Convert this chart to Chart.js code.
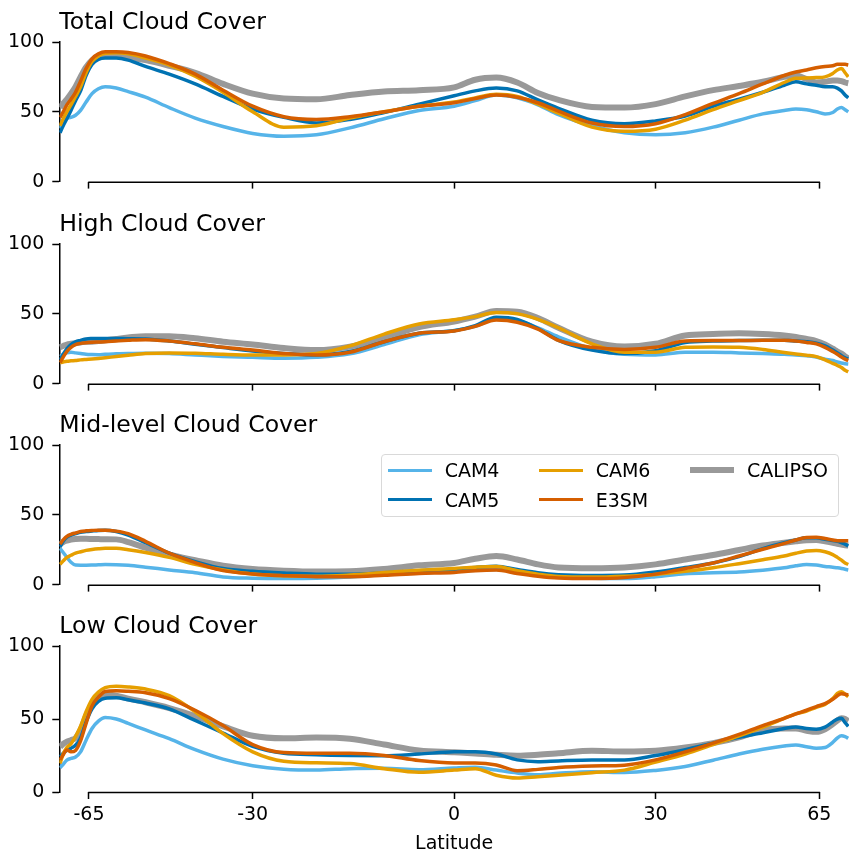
<!DOCTYPE html>
<html>
<head>
<meta charset="utf-8">
<title>Zonal mean cloud cover</title>
<script src="https://cdn.jsdelivr.net/npm/chart.js@4.4.0/dist/chart.umd.min.js"></script>
<style>
  html, body { margin: 0; padding: 0; background: #fff; }
  body { width: 849px; height: 851px; position: relative; overflow: hidden; font-family: "DejaVu Sans", sans-serif; }
  .panel { position: absolute; left: 0; width: 849px; }
  .panel canvas { display: block; }
  #legend { position: absolute; left: 381px; top: 454px; width: 458px; height: 63px; box-sizing: border-box;
            border: 1px solid #d9d9d9; border-radius: 4px; background: rgba(255,255,255,0.8); }
  .item { position: absolute; height: 24px; display: flex; align-items: center; }
  .swatch { width: 44px; margin-right: 13px; }
  .label { font-size: 19px; color: #000; white-space: nowrap; }
</style>
</head>
<body>
<div id="legend"></div>
<script>
// latitudes of the sampled points (degrees)
const LAT = [-78, -76, -74, -72, -70, -68, -66, -64, -62, -60, -57, -54, -50, -45, -40, -35, -30, -25, -20, -15, -10, -5,
             0, 3, 6, 9, 12, 15, 20, 25, 30, 35, 40, 45, 50, 55, 58, 61, 64, 67, 70, 72, 74, 76, 78];
const TICK_LATS = [-65, -30, 0, 30, 65];
const PANEL_TITLES = ['Total Cloud Cover', 'High Cloud Cover', 'Mid-level Cloud Cover', 'Low Cloud Cover'];
const SERIES_NAMES = ['CAM4', 'CAM5', 'CAM6', 'E3SM', 'CALIPSO'];

// Total cloud cover (%)
const TOTAL_CAM4 = [38, 44, 45.5, 46, 47.5, 51, 57, 63, 66.5, 68, 67, 64.5, 60.5, 53, 45.5, 39.5, 34.5, 32.5, 33.5, 38.5, 45, 51,
                    54, 58, 62, 60, 55, 48, 40, 35, 33.5, 35, 39, 44, 48.5, 51, 52, 51.5, 50, 48.5, 49.5, 52, 53, 51.5, 50];
const TOTAL_CAM5 = [35, 40, 45, 51, 58, 65, 76, 84, 87.5, 88.5, 88.5, 87, 82.5, 77, 70, 61, 52, 46, 42, 44.5, 49.5, 55.5,
                    61.5, 65, 67, 65, 58.5, 52.5, 44, 41.5, 43.5, 47, 54, 59, 64, 69, 71.5, 70, 69, 68, 68, 67, 65, 62, 60];
const TOTAL_CAM6 = [40, 45, 50, 55, 61, 68, 78, 86, 90, 92, 92.4, 91.5, 88.5, 83.5, 75.5, 64, 50, 39, 40, 45.5, 50, 54,
                    57, 60, 62.5, 61, 55.5, 49, 39, 36, 37.5, 44, 51.5, 58, 64, 71, 74, 74.3, 74.5, 75, 77.5, 80, 81, 78, 75];
const TOTAL_E3SM = [46, 50, 55, 59, 64, 72, 81, 88, 91.5, 93, 93, 92.5, 90, 84.5, 77, 65.5, 54, 46.5, 44.5, 46.5, 50, 54,
                    56.5, 59.5, 62, 60.5, 56.5, 50.5, 42, 39.5, 41.5, 48, 56, 63, 70, 76, 78.5, 80, 81.5, 82.5, 83, 84, 84, 84, 83.5];
const TOTAL_CALIPSO = [53, 56, 59, 63, 68, 75, 82, 87, 90, 91, 91, 89, 87, 83, 78, 70, 63, 59.5, 59, 62, 64.5, 65.5,
                       67.5, 73, 74.5, 71, 63.5, 58.5, 53.5, 53, 55.5, 61, 65.5, 68.5, 71.5, 75, 76, 73.5, 71, 71.5, 72.5, 72.5, 72, 71, 70.5];

// High cloud cover (%)
const HIGH_CAM4 = [19.5, 21, 22, 22.5, 22, 21.5, 21, 20.8, 20.7, 21, 21.3, 21.6, 21.8, 21.5, 20.5, 19.5, 18.8, 18.2, 18.8, 21.3, 28, 35,
                   38, 41, 46.5, 45, 40, 33.5, 25, 21, 20.5, 22.5, 22.5, 22, 21.5, 21, 20.5, 20, 19, 17.5, 16.5, 15.5, 14.8, 14.2, 14];
const HIGH_CAM5 = [17, 21, 25, 28, 30, 31, 32, 32.3, 32.4, 32.4, 32.3, 32.2, 32, 30.5, 28.2, 25.8, 23.4, 21.6, 20.5, 23, 30, 36,
                   37.8, 41.5, 47.5, 46, 39.5, 31, 24, 21.5, 23.5, 29.5, 30.5, 30.8, 31, 31, 30.5, 30, 29, 27, 24, 22, 20, 18.5, 17.5];
const HIGH_CAM6 = [15, 15.5, 16, 16.3, 16.6, 17, 17.3, 17.6, 18, 18.5, 19.4, 20.3, 21.5, 22, 21.8, 21, 20.5, 20.5, 21.5, 27, 35.5, 42.7,
                   45.7, 48, 51, 50, 46, 40, 28.5, 22.5, 22.5, 26, 26.2, 26, 24.5, 22.3, 21.2, 20.3, 19.3, 17, 14.5, 13, 11.5, 9.5, 8.5];
const HIGH_E3SM = [15, 19, 23, 26, 28, 28.8, 29.3, 29.6, 29.8, 30, 30.5, 31, 31.5, 30.5, 28.5, 26, 24, 21.5, 20.5, 22.5, 30, 36,
                   37.7, 41, 45.5, 44, 39, 31, 26, 24.5, 26, 30.5, 30.8, 30.8, 31, 31, 30.5, 29.5, 28.5, 26, 23, 21, 19, 17.5, 16.5];
const HIGH_CALIPSO = [26, 27, 28, 28.5, 29, 29.5, 30, 30, 30.5, 31, 32, 33, 34, 34, 32.5, 30, 28, 25.5, 24, 26.5, 33, 40.5,
                      44.5, 48, 52, 51.5, 47, 40, 30, 26.5, 28.5, 34.5, 35.5, 36, 35.5, 34.5, 33.5, 32, 30.5, 28, 25, 23, 21.5, 19.5, 18];

// Mid-level cloud cover (%)
const MID_CAM4 = [26, 23, 19.5, 16, 14, 13.9, 13.9, 14, 14.2, 14.4, 14.3, 13.8, 12.5, 10.5, 8.5, 5.5, 4.6, 4.3, 4.5, 5.5, 7.2, 8.4,
                  9.4, 10.3, 10.8, 9, 7.5, 5.8, 4.5, 4.3, 5.6, 7.8, 8.5, 9, 10.3, 12, 13.5, 14.4, 14, 13, 12.5, 12, 11.5, 11, 10.5];
const MID_CAM5 = [27, 31, 34, 35.5, 36.5, 37.5, 38, 38.4, 38.8, 39, 38, 35.5, 30, 22.6, 16.5, 11.5, 9.5, 8.3, 7.5, 7.5, 8.5, 10,
                  11, 12.3, 13.2, 10.8, 8.5, 7.1, 6.5, 6.8, 9, 12.2, 15.5, 20, 25.8, 30, 32, 33.5, 33.5, 32.5, 31.5, 31, 30, 29, 27.6];
const MID_CAM6 = [14.5, 17, 19.5, 21, 22.5, 23.5, 24.5, 25.2, 25.7, 26, 26, 25, 23, 19.5, 14.5, 10.5, 7.6, 6.3, 6, 6.9, 8.6, 10.3,
                  11.6, 12.5, 13, 10, 7.5, 5.8, 5.4, 6, 7.3, 9.5, 12.1, 15, 17.8, 20.5, 22.5, 24, 24.5, 23.5, 21.5, 19.5, 17.5, 15.5, 14.4];
const MID_E3SM = [29, 32, 34.5, 36, 37, 38, 38.5, 38.8, 39, 39, 38.3, 36.5, 31, 22.5, 15.8, 10, 7.6, 6.4, 5.7, 5.7, 6.7, 8,
                  8.7, 10, 10.5, 8, 6, 4.7, 4.3, 5, 7.5, 11.5, 15.5, 20.5, 25.3, 29.5, 32, 33.8, 34, 33, 32, 31.5, 31.5, 31.5, 31.5];
const MID_CALIPSO = [29, 30.5, 31.5, 32.3, 32.7, 32.8, 32.8, 32.7, 32.6, 32.5, 32.4, 30.5, 26.5, 21.5, 17.5, 13.5, 11.2, 10, 9.4, 9.6, 11.2, 13.8,
                     15.5, 18.5, 20.5, 18, 14.5, 12.3, 11.8, 12.3, 14.5, 18, 21.2, 24.8, 28, 30, 31, 31.8, 32, 31, 30, 29.3, 28.7, 28.2, 28];

// Low cloud cover (%)
const LOW_CAM4 = [16.5, 19, 21.8, 23, 24, 27.5, 35.5, 43.5, 48.5, 51, 50, 47, 42.5, 36.5, 29, 22.5, 18, 15.6, 15, 16, 16.2, 15.3,
                  16.5, 17, 15, 13, 11.8, 12.8, 13.9, 13.3, 14.8, 17.5, 21.8, 26, 29.3, 31.5, 32.2, 31, 30, 30.5, 34, 37, 38.5, 38, 36.8];
const LOW_CAM5 = [24, 26.5, 28.5, 30, 32, 37, 48, 57, 62, 64.3, 64.5, 63.2, 61, 57, 49, 40.4, 31.3, 26.5, 25.5, 25, 24.8, 26,
                  27.5, 27.6, 26, 22, 20.8, 21.3, 21.9, 21.9, 25, 29, 33.5, 37.5, 40.5, 43.5, 44.6, 43.5, 43, 44.5, 48, 50, 50.5, 47.5, 45];
const LOW_CAM6 = [19.6, 26, 30.5, 33, 38, 45, 55, 63.5, 68.5, 71.5, 72.5, 72, 70.5, 66, 55, 40, 27.5, 21, 20, 19.5, 16, 13.5,
                  15, 16, 11.5, 9.6, 10.5, 11.5, 13.2, 15, 20.5, 26, 32.5, 38.5, 44.5, 50.5, 53.5, 55.5, 58, 60, 64, 67.5, 68.7, 67, 65.3];
const LOW_E3SM = [22, 25.5, 28.8, 27.5, 28.5, 35, 47, 59, 65, 68.8, 69.4, 69, 68, 64, 56, 45.5, 32.5, 27, 26.5, 26.5, 25, 21.5,
                  19.8, 19.8, 18.5, 14.6, 15.5, 16.8, 17.8, 18.4, 22, 27.5, 33.5, 39.5, 45.5, 50.5, 53.5, 56, 58.5, 60.5, 63.5, 66, 67.3, 67, 66.4];
const LOW_CALIPSO = [31, 33, 34.5, 35.5, 37, 42.5, 52, 60, 64.5, 66.8, 66, 64, 61.5, 57.5, 52, 45, 38.5, 36.8, 37.3, 36.5, 32.5, 28.5,
                     27.2, 26.4, 25.5, 24.9, 25.5, 26.5, 28.2, 27.8, 28.3, 30.5, 33.5, 37.5, 42.5, 43.5, 43.5, 42, 41.2, 43, 46.5, 49, 50.5, 50, 48.5];

const PANEL_SERIES = [
    [TOTAL_CAM4, TOTAL_CAM5, TOTAL_CAM6, TOTAL_E3SM, TOTAL_CALIPSO],
    [HIGH_CAM4, HIGH_CAM5, HIGH_CAM6, HIGH_E3SM, HIGH_CALIPSO],
    [MID_CAM4, MID_CAM5, MID_CAM6, MID_E3SM, MID_CALIPSO],
    [LOW_CAM4, LOW_CAM5, LOW_CAM6, LOW_E3SM, LOW_CALIPSO]
];

// styles
const COLORS = ['#56B4E9', '#0072B2', '#E69F00', '#D55E00', '#999999'];
const WIDTHS = [3.5, 3.5, 3.5, 3.5, 6];
const DRAW_ORDER = [3, 2, 1, 0, 4];   // E3SM on top, CALIPSO at the bottom
const PANEL_TOPS = [0, 202, 403, 604];

Chart.defaults.font.family = '"DejaVu Sans", sans-serif';
Chart.defaults.color = '#000';

// x axis is sine of latitude (area weighted)
function sinLat(lat) {
    return Math.sin(lat * Math.PI / 180);
}

// bottom spine trimmed to the outer ticks, like seaborn despine(trim=True)
const trimmedSpine = {
    id: 'trimmedSpine',
    afterDraw(chart) {
        const xs = chart.scales.x;
        const ctx = chart.ctx;
        const y = chart.chartArea.bottom + 0.6;
        ctx.save();
        ctx.strokeStyle = '#000';
        ctx.lineWidth = 1.5;
        ctx.beginPath();
        ctx.moveTo(xs.getPixelForValue(sinLat(TICK_LATS[0])) - 0.75, y);
        ctx.lineTo(xs.getPixelForValue(sinLat(TICK_LATS[TICK_LATS.length - 1])) + 0.75, y);
        ctx.stroke();
        ctx.restore();
    }
};

function makePanel(p) {
    const isLast = p === PANEL_TITLES.length - 1;
    const wrap = document.createElement('div');
    wrap.className = 'panel';
    wrap.style.top = PANEL_TOPS[p] + 'px';
    const canvas = document.createElement('canvas');
    canvas.width = 849;
    canvas.height = isLast ? 250 : 201;
    wrap.appendChild(canvas);
    document.body.insertBefore(wrap, document.getElementById('legend'));

    const datasets = SERIES_NAMES.map((name, s) => ({
        label: name,
        data: LAT.map((lat, i) => ({ x: sinLat(lat), y: PANEL_SERIES[p][s][i] })),
        borderColor: COLORS[s],
        borderWidth: WIDTHS[s],
        pointRadius: 0,
        fill: false,
        cubicInterpolationMode: 'monotone',
        borderJoinStyle: 'round',
        order: DRAW_ORDER[s]
    }));

    new Chart(canvas, {
        type: 'line',
        data: { datasets },
        plugins: [trimmedSpine],
        options: {
            responsive: false,
            animation: false,
            devicePixelRatio: 1,
            layout: { padding: 0 },
            plugins: {
                legend: { display: false },
                tooltip: { enabled: false },
                title: {
                    display: true,
                    text: PANEL_TITLES[p],
                    align: 'start',
                    fullSize: false,
                    color: '#000',
                    font: { size: 23.6, weight: 'normal' },
                    padding: { top: 8.3, bottom: 5.4 }
                }
            },
            scales: {
                x: {
                    type: 'linear',
                    min: -0.98,
                    max: 0.98,
                    afterBuildTicks: (scale) => {
                        scale.ticks = TICK_LATS.map(l => ({ value: sinLat(l) }));
                    },
                    afterFit: (scale) => { scale.height = isLast ? 62 : 13; },
                    grid: { drawOnChartArea: false, drawTicks: true, tickLength: 7, tickWidth: 1.5, tickColor: '#000' },
                    border: { display: false },
                    ticks: {
                        display: isLast,
                        autoSkip: false,
                        maxRotation: 0,
                        padding: 5,
                        font: { size: 19 },
                        color: '#000',
                        callback: (v) => String(Math.round(Math.asin(v) * 180 / Math.PI))
                    },
                    title: {
                        display: isLast,
                        text: 'Latitude',
                        color: '#000',
                        font: { size: 19, lineHeight: 1 },
                        padding: 0
                    }
                },
                y: {
                    min: 0,
                    max: 100,
                    afterFit: (scale) => { scale.width = 59.3; },
                    grid: { drawOnChartArea: false, drawTicks: true, tickLength: 7, tickWidth: 1.5, tickColor: '#000' },
                    border: { display: true, color: '#000', width: 1.5 },
                    ticks: { stepSize: 50, padding: 8, font: { size: 19 }, color: '#000' }
                }
            }
        }
    });
}

function makeLegend() {
    const box = document.getElementById('legend');
    const colLeft = [5.7, 156.7, 308];
    const rowMid = [15.3, 44.7];
    SERIES_NAMES.forEach((name, s) => {
        const col = Math.floor(s / 2);
        const row = s % 2;
        const item = document.createElement('div');
        item.className = 'item';
        item.style.left = colLeft[col] + 'px';
        item.style.top = (rowMid[row] - 12) + 'px';
        const sw = document.createElement('div');
        sw.className = 'swatch';
        sw.style.height = WIDTHS[s] + 'px';
        sw.style.background = COLORS[s];
        const lab = document.createElement('span');
        lab.className = 'label';
        lab.textContent = name;
        item.appendChild(sw);
        item.appendChild(lab);
        box.appendChild(item);
    });
}

PANEL_TITLES.forEach((t, p) => makePanel(p));
makeLegend();
</script>
</body>
</html>
